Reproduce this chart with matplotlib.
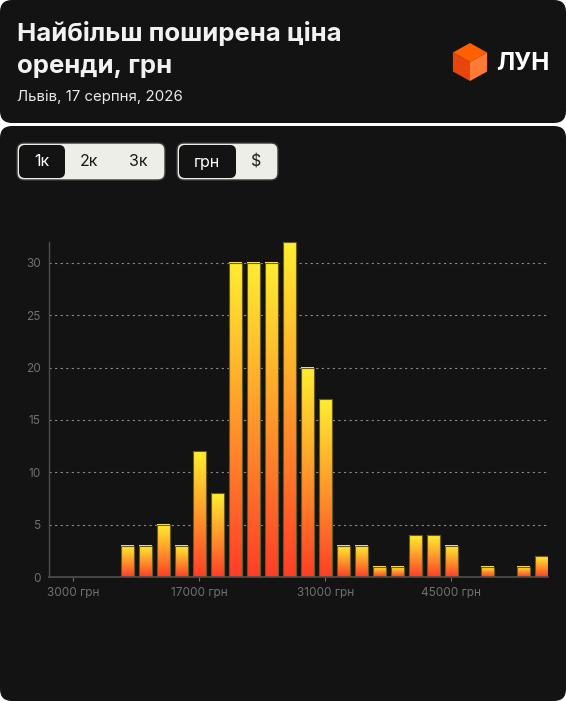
import matplotlib
matplotlib.use("Agg")
import matplotlib.pyplot as plt
import numpy as np
from matplotlib.patches import FancyBboxPatch, Polygon
from matplotlib.colors import LinearSegmentedColormap

# ---- data ----
bin_centers = [3000, 5000, 7000, 9000, 11000, 13000, 15000, 17000, 19000, 21000,
               23000, 25000, 27000, 29000, 31000, 33000, 35000, 37000, 39000,
               41000, 43000, 45000, 47000, 49000, 51000, 53000, 55000]
counts = [0, 0, 0, 3, 3, 5, 3, 12, 8, 30, 30, 30, 32, 20, 17, 3, 3, 1, 1,
          4, 4, 3, 0, 1, 0, 1, 2]
x_ticks = [3000, 17000, 31000, 45000]
x_tick_labels = ["3000 грн", "17000 грн", "31000 грн", "45000 грн"]
y_ticks = [0, 5, 10, 15, 20, 25, 30]
title_lines = ["Найбільш поширена ціна", "оренди, грн"]
subtitle = "Львів, 17 серпня, 2026"
room_buttons = ["1к", "2к", "3к"]
currency_buttons = ["грн", "$"]

W, H = 566, 701
CARD = "#131313"
FONT = ["Inter", "DejaVu Sans"]

fig = plt.figure(figsize=(W / 100, H / 100), dpi=100)
fig.patch.set_facecolor("white")

# background axes in pixel coordinates
bg = fig.add_axes([0, 0, 1, 1])
bg.set_xlim(0, W)
bg.set_ylim(H, 0)
bg.axis("off")

def card(x0, y0, x1, y1, r, fc, ec="none", lw=0):
    p = FancyBboxPatch((x0 + r, y0 + r), (x1 - x0) - 2 * r, (y1 - y0) - 2 * r,
                       boxstyle=f"round,pad={r}", fc=fc, ec=ec, lw=lw)
    bg.add_patch(p)
    return p

card(0, 0, W, 123, 12, CARD)
card(0, 126, W, H, 12, CARD)

# title and subtitle
bg.text(17, 41, title_lines[0], color="#f2f2f2", fontsize=18.5,
        fontweight="bold", family=FONT, va="baseline", ha="left")
bg.text(17, 73, title_lines[1], color="#f2f2f2", fontsize=18.5,
        fontweight="bold", family=FONT, va="baseline", ha="left")
bg.text(17, 101, subtitle, color="#e8e8e8", fontsize=10.8, family=FONT,
        va="baseline", ha="left")

# logo cube
cx, cy, s = 470, 62, 19
top = [(cx, cy - s), (cx + s * 0.9, cy - s * 0.5), (cx, cy), (cx - s * 0.9, cy - s * 0.5)]
left = [(cx - s * 0.9, cy - s * 0.5), (cx, cy), (cx, cy + s), (cx - s * 0.9, cy + s * 0.5)]
right = [(cx, cy), (cx + s * 0.9, cy - s * 0.5), (cx + s * 0.9, cy + s * 0.5), (cx, cy + s)]
bg.add_patch(Polygon(top, closed=True, fc="#ff5f00", ec="none"))
bg.add_patch(Polygon(left, closed=True, fc="#e8450c", ec="none"))
bg.add_patch(Polygon(right, closed=True, fc="#ff7a35", ec="none"))
bg.text(496, 63, "ЛУН", color="white", fontsize=17.5, fontweight="bold",
        family=FONT, va="center", ha="left")

# buttons
LIGHT = "#eeeee9"
card(17, 143, 165, 180, 7, LIGHT, ec="#3a3a3a", lw=1)
card(19, 145, 65, 178, 6, CARD)
for lbl, xc, sel in zip(room_buttons, [42, 89, 138], [True, False, False]):
    bg.text(xc, 162, lbl, color="white" if sel else "#1a1a1a", fontsize=11.5,
            family=FONT, ha="center", va="center")
card(177, 143, 278, 180, 7, LIGHT, ec="#3a3a3a", lw=1)
card(179, 145, 236, 178, 6, CARD)
for lbl, xc, sel in zip(currency_buttons, [207, 256], [True, False]):
    bg.text(xc, 162, lbl, color="white" if sel else "#1a1a1a", fontsize=11.5,
            family=FONT, ha="center", va="center")

# chart axes
ax = fig.add_axes([49 / W, 1 - 577 / H, 499 / W, 335 / H])
ax.set_facecolor("none")
bar_w = 1420
bars = ax.bar(bin_centers, counts, width=bar_w, facecolor="none",
              edgecolor="#6a5a18", linewidth=0.8, zorder=3)

cmap = LinearSegmentedColormap.from_list(
    "g", ["#ff3d26", "#ff7a2a", "#ffb52c", "#ffee30"])
grad = np.linspace(0, 1, 256).reshape(-1, 1)
for rect, c in zip(bars, counts):
    if c <= 0:
        continue
    x0 = rect.get_x()
    w = rect.get_width()
    h = rect.get_height()
    ax.imshow(grad, cmap=cmap, origin="lower", aspect="auto",
              extent=[x0, x0 + w, 0, h], zorder=2, interpolation="bilinear")

ax.set_xlim(300, 55000 + bar_w / 2 + 20)
ax.set_ylim(0, 32)

for y in y_ticks[1:]:
    ax.axhline(y, color="#8a8a8a", lw=0.8, ls=(0, (2, 3)), zorder=1)

for sp in ["top", "right"]:
    ax.spines[sp].set_visible(False)
ax.spines["left"].set_color("#4e4e55")
ax.spines["bottom"].set_color("#4e4e55")
ax.spines["left"].set_linewidth(1)
ax.spines["bottom"].set_linewidth(1.2)

ax.set_yticks(y_ticks)
ax.set_yticklabels([str(v) for v in y_ticks])
ax.set_xticks(x_ticks)
ax.set_xticklabels(x_tick_labels)
ax.tick_params(axis="y", length=0, pad=6, labelsize=8.5, labelcolor="#6f6f75")
ax.tick_params(axis="x", length=3, width=0.8, color="#6f6f75", pad=4,
               labelsize=8.5, labelcolor="#6f6f75")
for t in ax.get_xticklabels() + ax.get_yticklabels():
    t.set_family(FONT)

fig.savefig("out.png", dpi=100, facecolor="white")
